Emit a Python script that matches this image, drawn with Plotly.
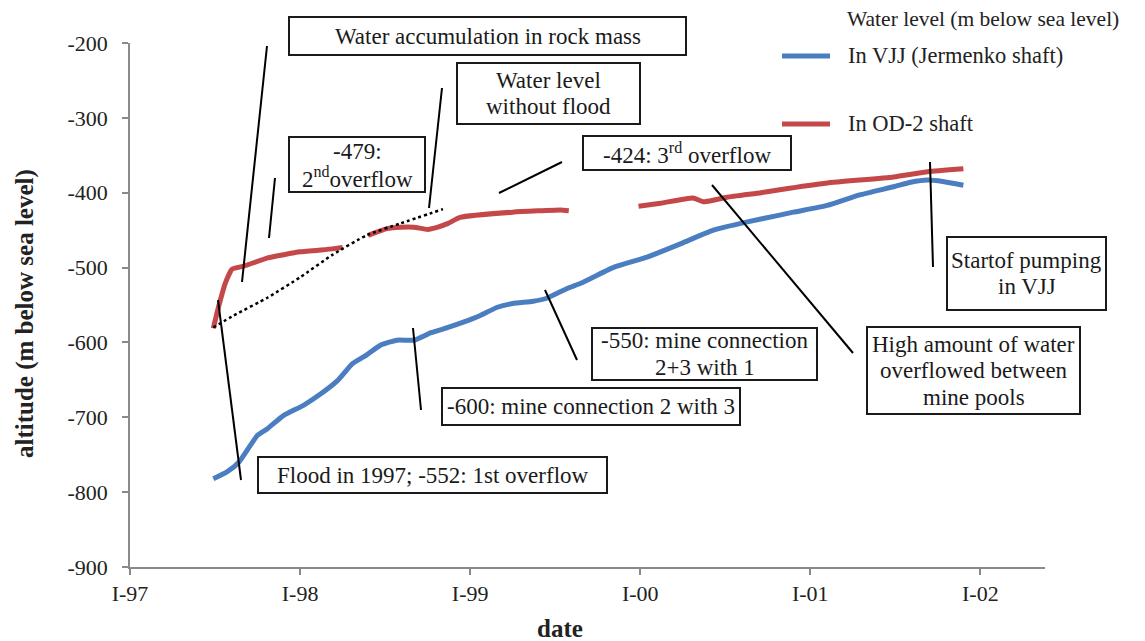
import plotly.graph_objects as go

# ---------------- data ----------------
tick_years = [1997, 1998, 1999, 2000, 2001, 2002]
tick_labels = ["I-97", "I-98", "I-99", "I-00", "I-01", "I-02"]
y_ticks = [-900, -800, -700, -600, -500, -400, -300, -200]
y_tick_labels = ["-900", "-800", "-700", "-600", "-500", "-400", "-300", "-200"]

# Water level in VJJ (Jermenko shaft)
vjj_t = [1997.49, 1997.57, 1997.64, 1997.75, 1997.81, 1997.90, 1998.02, 1998.12,
         1998.22, 1998.31, 1998.39, 1998.47, 1998.57, 1998.67, 1998.77, 1998.87,
         1998.96, 1999.06, 1999.16, 1999.25, 1999.37, 1999.45, 1999.57, 1999.65,
         1999.84, 2000.04, 2000.24, 2000.43, 2000.63, 2000.82, 2000.90, 2001.10,
         2001.29, 2001.49, 2001.59, 2001.69, 2001.78, 2001.90]
vjj_level = [-782, -773, -760, -724, -715, -698, -684, -669,
             -651, -628, -617, -604, -597, -597, -587, -580,
             -573, -564, -553, -548, -545, -541, -528, -521,
             -500, -486, -468, -450, -439, -430, -426, -417,
             -403, -392, -386, -383, -385, -390]

# Water level in OD-2 shaft (None = gap in the record)
od2_t = [1997.49, 1997.52, 1997.56, 1997.60, 1997.67, 1997.81, 1998.00, 1998.19,
         1998.25, None, 1998.40, 1998.51, 1998.59, 1998.67, 1998.75, 1998.81,
         1998.87, 1998.94, 1999.25, 1999.53, 1999.58, None, 1999.99, 2000.12,
         2000.31, 2000.37, 2000.43, 2000.51, 2000.71, 2000.82, 2001.10, 2001.49,
         2001.69, 2001.90]
od2_level = [-581, -553, -521, -502, -498, -487, -479, -475,
             -473, None, -457, -448, -446, -446, -449, -446,
             -441, -433, -426, -423, -424, None, -418, -414,
             -407, -412, -410, -406, -400, -396, -387, -379,
             -372, -368]

# Water level without flood (dotted)
nf_t = [1997.49, 1997.61, 1997.81, 1998.00, 1998.19, 1998.39, 1998.59, 1998.84]
nf_level = [-580, -564, -540, -513, -483, -457, -441, -422]

BLUE = "#4a7ec0"
RED = "#c4484a"
INK = "#1a1a1a"
FONT = "Liberation Serif"

# the page places the figure 8 px from the top-left corner (default body margin)
OFF = 8
W, H = 1145 - OFF, 641 - OFF
ML, MR, MT, MB = 130 - OFF, 100, 43 - OFF, 74
PW, PH = W - ML - MR, H - MT - MB


def px(x):  # page pixel -> paper
    return (x - OFF - ML) / PW


def py(y):  # page pixel -> paper
    return (H - MB - (y - OFF)) / PH


fig = go.Figure()
fig.add_trace(go.Scatter(x=vjj_t, y=vjj_level, mode="lines", name="In VJJ (Jermenko shaft)",
                         line=dict(color=BLUE, width=5, shape="spline", smoothing=0.5),
                         showlegend=False))
fig.add_trace(go.Scatter(x=od2_t, y=od2_level, mode="lines", name="In OD-2 shaft",
                         line=dict(color=RED, width=5, shape="spline", smoothing=0.4),
                         connectgaps=False, showlegend=False))
fig.add_trace(go.Scatter(x=nf_t, y=nf_level, mode="lines", name="Water level without flood",
                         line=dict(color="black", width=2.5, dash="dot", shape="spline", smoothing=0.5),
                         showlegend=False))

shapes = []
annotations = []

# annotation boxes: (lines, left, top, right, bottom) in page pixels
boxes = [
    (["Water accumulation in rock mass"], 289, 17, 686, 55),
    (["-479:", "2<sup>nd</sup>overflow"], 289, 137, 425, 192),
    (["Water level", "without flood"], 457, 63, 640, 124),
    (["-424: 3<sup>rd</sup> overflow"], 583, 136, 791, 170),
    (["-550: mine connection", "2+3 with 1"], 592, 328, 817, 380),
    (["-600: mine connection 2 with 3"], 442, 388, 740, 425),
    (["Flood in 1997; -552: 1st overflow"], 258, 457, 607, 493),
    (["High amount of water", "overflowed between", "mine pools"], 867, 327, 1080, 414),
    (["Startof pumping", "in VJJ"], 947, 237, 1106, 310),
]
LINE_GAP = 26.5
for lines, l, t, r, b in boxes:
    shapes.append(dict(type="rect", xref="paper", yref="paper", x0=px(l), x1=px(r),
                       y0=py(b), y1=py(t), line=dict(color=INK, width=2),
                       fillcolor="white", layer="above"))
    n = len(lines)
    cy = (t + b) / 2
    for i, text in enumerate(lines):
        yy = cy + (i - (n - 1) / 2) * LINE_GAP
        annotations.append(dict(text=text, xref="paper", yref="paper", x=px((l + r) / 2),
                                y=py(yy), xanchor="center", yanchor="middle",
                                showarrow=False, align="center",
                                font=dict(family=FONT, size=23, color=INK)))

# connector lines (page pixels)
connectors = [
    (267, 46, 242, 282),
    (275, 178, 269, 238),
    (218, 300, 241, 480),
    (442, 88, 429, 208),
    (562, 162, 499, 193),
    (413, 328, 421, 410),
    (545, 290, 577, 360),
    (712, 185, 853, 353),
    (930, 162, 933, 267),
]
for x0, y0, x1, y1 in connectors:
    shapes.append(dict(type="line", xref="paper", yref="paper", x0=px(x0), y0=py(y0),
                       x1=px(x1), y1=py(y1), line=dict(color="black", width=2), layer="above"))

# manual legend
annotations.append(dict(text="Water level (m below sea level)", xref="paper", yref="paper",
                        x=px(846), y=py(19), xanchor="left", yanchor="middle", showarrow=False,
                        borderpad=0, font=dict(family=FONT, size=21.5, color="#222222")))
for label, color, yy in [("In VJJ (Jermenko shaft)", BLUE, 55), ("In OD-2 shaft", RED, 123)]:
    shapes.append(dict(type="line", xref="paper", yref="paper", x0=px(782), x1=px(830),
                       y0=py(yy + 1), y1=py(yy + 1), line=dict(color=color, width=5)))
    annotations.append(dict(text=label, xref="paper", yref="paper", x=px(846), y=py(yy),
                            xanchor="left", yanchor="middle", showarrow=False,
                            font=dict(family=FONT, size=22.5, color="#222222")))

# axis titles
annotations.append(dict(text="<b>date</b>", xref="paper", yref="paper", x=px(560), y=py(628),
                        xanchor="center", yanchor="middle", showarrow=False,
                        font=dict(family=FONT, size=25, color="#222222")))
annotations.append(dict(text="<b>altitude (m below sea level)</b>", xref="paper", yref="paper",
                        x=px(25), y=py(314), xanchor="center", yanchor="middle", showarrow=False,
                        textangle=-90, font=dict(family=FONT, size=25, color="#222222")))

fig.update_layout(
    width=W, height=H,
    margin=dict(l=ML, r=MR, t=MT, b=MB, autoexpand=False),
    plot_bgcolor="white", paper_bgcolor="white",
    font=dict(family=FONT, size=20, color="#222222"),
    shapes=shapes, annotations=annotations,
    xaxis=dict(range=[1997, 2002.38], tickvals=tick_years, ticktext=tick_labels,
               automargin=False,
               showgrid=False, zeroline=False, showline=True, linecolor="#8a8a8a", linewidth=1.5,
               ticks="outside", ticklen=6, tickcolor="#8a8a8a", tickwidth=1.5,
               tickfont=dict(family=FONT, size=22, color="#222222")),
    yaxis=dict(range=[-900, -200], tickvals=y_ticks, ticktext=y_tick_labels,
               automargin=False, ticklabelstandoff=10,
               showgrid=False, zeroline=False, showline=True, linecolor="#8a8a8a", linewidth=1.5,
               ticks="outside", ticklen=6, tickcolor="#8a8a8a", tickwidth=1.5,
               tickfont=dict(family=FONT, size=22, color="#222222")),
)

fig.write_html("out.html")
